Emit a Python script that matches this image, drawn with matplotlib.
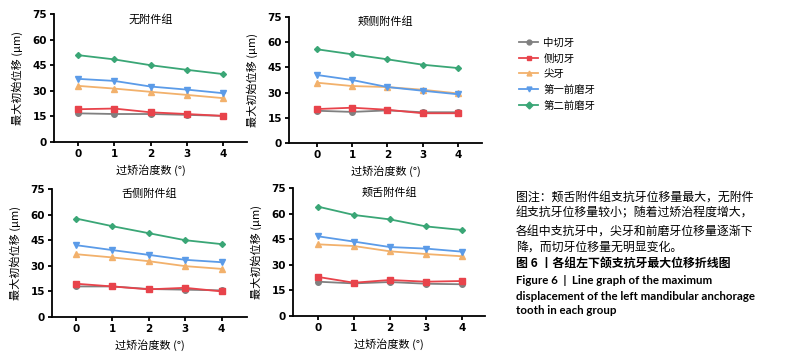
import matplotlib
matplotlib.use("Agg")
import matplotlib.pyplot as plt
from matplotlib.lines import Line2D

plt.rcParams['font.family'] = ['Noto Sans CJK SC', 'DejaVu Sans']

degrees = [0, 1, 2, 3, 4]
teeth = ["中切牙", "侧切牙", "尖牙", "第一前磨牙", "第二前磨牙"]
colors = ["#808080", "#e8434b", "#f2b16c", "#5b9be8", "#3aa676"]
markers = ["o", "s", "^", "v", "D"]

titles = ["无附件组", "颊侧附件组", "舌侧附件组", "颊舌附件组"]

# one list per tooth, per group
group_none = [
    [16.8, 16.4, 16.4, 15.9, 15.3],
    [19.2, 19.6, 17.4, 16.4, 15.3],
    [32.9, 31.3, 29.4, 27.6, 25.7],
    [37.0, 35.8, 32.5, 30.7, 28.6],
    [50.9, 48.4, 45.0, 42.3, 39.8],
]
group_buccal = [
    [19.2, 18.5, 19.4, 18.3, 18.3],
    [20.2, 21.0, 19.8, 17.7, 17.7],
    [35.9, 33.9, 33.3, 31.7, 29.5],
    [40.5, 37.5, 33.3, 31.1, 29.0],
    [55.8, 52.8, 49.8, 46.6, 44.6],
]
group_lingual = [
    [17.9, 17.9, 16.4, 16.0, 15.6],
    [19.5, 17.9, 16.2, 17.1, 15.0],
    [36.8, 34.9, 32.7, 29.8, 28.2],
    [42.1, 39.2, 36.4, 33.5, 32.1],
    [57.7, 53.2, 49.1, 45.0, 42.7],
]
group_both = [
    [20.1, 19.1, 19.9, 18.9, 18.6],
    [22.9, 19.5, 21.1, 20.1, 20.5],
    [42.0, 41.0, 37.9, 36.3, 35.0],
    [46.7, 43.6, 40.4, 39.5, 37.7],
    [64.1, 59.2, 56.6, 52.5, 50.4],
]
groups = [group_none, group_buccal, group_lingual, group_both]

# axes boxes in pixels: left, right, top, bottom
boxes = [(54, 247, 14, 142), (289, 482, 17, 143), (52, 247, 189, 317), (293, 485, 188, 316)]
xlims = [(-0.66, 4.66), (-0.79, 4.68), (-0.66, 4.7), (-0.69, 4.64)]

W, H = 807, 364
fig = plt.figure(figsize=(W / 100, H / 100), dpi=100)

for g, (l, r, t, b), xl, title in zip(groups, boxes, xlims, titles):
    ax = fig.add_axes([l / W, 1 - b / H, (r - l) / W, (b - t) / H])
    for vals, c, m in zip(g, colors, markers):
        ax.plot(degrees, vals, color=c, marker=m, markersize=4 if m != "D" else 3,
                linewidth=1.3, clip_on=False)
    ax.set_xlim(*xl)
    ax.set_ylim(0, 75)
    ax.set_yticks([0, 15, 30, 45, 60, 75])
    ax.set_xticks(degrees)
    for s in ["top", "right"]:
        ax.spines[s].set_visible(False)
    for s in ["left", "bottom"]:
        ax.spines[s].set_linewidth(1.3)
    ax.tick_params(width=1.3, length=3, labelsize=7.5, pad=2)
    for lab in ax.get_xticklabels() + ax.get_yticklabels():
        lab.set_fontweight("bold")
        lab.set_family("DejaVu Sans")
    ax.text(0.5, 0.96, title, transform=ax.transAxes, ha="center", va="center", fontsize=8)
    ax.set_ylabel("最大初始位移 (μm)", fontsize=8, labelpad=7)
    ax.set_xlabel("过矫治度数 (°)", fontsize=8, labelpad=4)

handles = [Line2D([], [], color=c, marker=m, markersize=3.5, linewidth=1.3)
           for c, m in zip(colors, markers)]
fig.legend(handles, teeth, loc="upper left", bbox_to_anchor=(510 / W, 1 - 28 / H),
           frameon=False, fontsize=7.5, handlelength=1.8, handletextpad=0.5,
           labelspacing=0.55)

caption_cn = [
    "图注：颊舌附件组支抗牙位移量最大，无附件",
    "组支抗牙位移量较小；随着过矫治程度增大，",
    "各组中支抗牙中，尖牙和前磨牙位移量逐渐下",
    "降，而切牙位移量无明显变化。",
]
caption_title = "图 6 丨各组左下颌支抗牙最大位移折线图"
caption_en = [
    "Figure 6  |  Line graph of the maximum",
    "displacement of the left mandibular anchorage",
    "tooth in each group",
]
ys = [197, 213, 231, 247, 263, 280, 296, 311]
for txt, y in zip(caption_cn, ys[:4]):
    fig.text(516 / W, 1 - y / H, txt, fontsize=8.6, va="center", ha="left")
fig.text(516 / W, 1 - ys[4] / H, caption_title, fontsize=8.6, fontweight="bold",
         va="center", ha="left")
for txt, y in zip(caption_en, ys[5:]):
    fig.text(516 / W, 1 - y / H, txt, fontsize=8.3, fontweight="bold", va="center",
             ha="left", family=["Lato", "DejaVu Sans"])

fig.savefig("out.png", dpi=100)
